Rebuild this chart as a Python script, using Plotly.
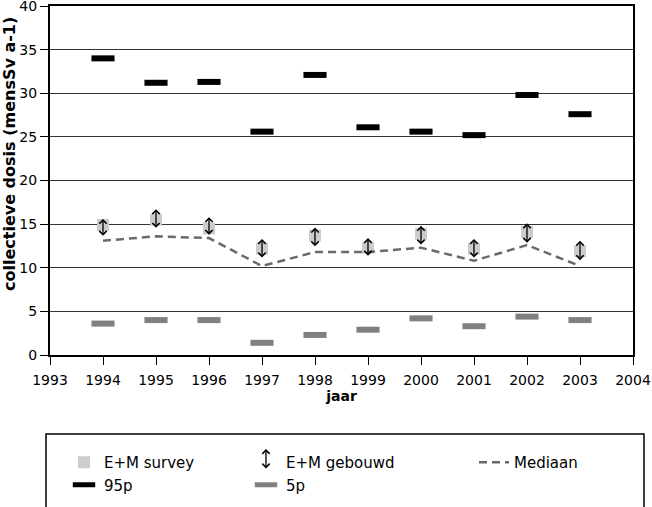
import plotly.graph_objects as go

years = [1994, 1995, 1996, 1997, 1998, 1999, 2000, 2001, 2002, 2003]
p95 = [34.0, 31.2, 31.3, 25.6, 32.1, 26.1, 25.6, 25.2, 29.8, 27.6]
p5 = [3.6, 4.0, 4.0, 1.4, 2.3, 2.9, 4.2, 3.3, 4.4, 4.0]
mediaan = [13.1, 13.6, 13.4, 10.2, 11.8, 11.8, 12.3, 10.8, 12.6, 10.2]
survey = [14.9, 15.5, 14.5, 12.2, 13.7, 12.3, 13.9, 12.2, 14.1, 11.9]
gebouwd_lo = [13.5, 14.4, 13.6, 11.0, 12.3, 11.2, 12.5, 11.0, 12.7, 10.7]
gebouwd_hi = [15.6, 16.7, 15.8, 13.3, 14.6, 13.4, 14.8, 13.3, 15.1, 13.1]
x_ticks = list(range(1993, 2005))
y_ticks = list(range(0, 45, 5))

FONT = "DejaVu Sans"
W, H = 652, 507
ML, MR, MT, MB = 50, 19, 6, 152
PW, PH = W - ML - MR, H - MT - MB


def px_x(px):
    return (px - ML) / PW


def px_y(py):
    return (H - MB - py) / PH


fig = go.Figure()

fig.add_trace(go.Scatter(
    x=years, y=survey, mode="markers", name="E+M survey",
    marker=dict(symbol="square", size=12, color="#cccccc"),
    legend="legend",
))
fig.add_trace(go.Scatter(
    x=years, y=p95, mode="markers", name="95p",
    marker=dict(symbol="line-ew", size=16.5, color="#000000",
                line=dict(width=6, color="#000000")),
    legend="legend",
))
# legend entry for the arrows (arrows themselves drawn as annotations)
fig.add_trace(go.Scatter(
    x=[None], y=[None], mode="markers", name="E+M gebouwd",
    marker=dict(symbol="square", size=10, color="rgba(0,0,0,0)"),
    legend="legend2",
))
fig.add_trace(go.Scatter(
    x=years, y=p5, mode="markers", name="5p",
    marker=dict(symbol="line-ew", size=16.5, color="#808080",
                line=dict(width=6, color="#808080")),
    legend="legend2",
))
fig.add_trace(go.Scatter(
    x=years, y=mediaan, mode="lines", name="Mediaan",
    line=dict(color="#6a6a6a", width=2.5, dash="8px,5px"),
    legend="legend3",
))

for yr, lo, hi in zip(years, gebouwd_lo, gebouwd_hi):
    fig.add_annotation(
        x=yr, y=hi, ax=yr, ay=lo, xref="x", yref="y", axref="x", ayref="y",
        text="", showarrow=True, arrowhead=4, arrowside="end+start",
        arrowsize=1.1, arrowwidth=1.3, arrowcolor="#000000", standoff=0, startstandoff=0,
    )

# legend arrow symbol
fig.add_annotation(
    x=px_x(266), y=px_y(449), ax=0, ay=21, xref="paper", yref="paper",
    axref="pixel", ayref="pixel",
    text="", showarrow=True, arrowhead=4, arrowside="end+start",
    arrowsize=1.1, arrowwidth=1.3, arrowcolor="#000000", standoff=0, startstandoff=0,
)

# y-axis title
fig.add_annotation(
    x=px_x(9), y=px_y(154), xref="paper", yref="paper",
    text="<b>collectieve dosis (mensSv a-1)</b>", textangle=-90, showarrow=False,
    font=dict(family=FONT, size=16, color="#000000"), xanchor="center", yanchor="middle",
)

# legend frame
fig.add_shape(type="rect", xref="paper", yref="paper",
              x0=px_x(46), x1=px_x(644), y0=px_y(434), y1=px_y(530),
              line=dict(color="#000000", width=1.5), fillcolor="rgba(0,0,0,0)")

leg_common = dict(orientation="v", yanchor="top", xanchor="left",
                  font=dict(family=FONT, size=15, color="#000000"),
                  bgcolor="rgba(0,0,0,0)", borderwidth=0, tracegroupgap=0)

fig.update_layout(
    width=W, height=H,
    margin=dict(l=ML, r=MR, t=MT, b=MB, pad=0, autoexpand=False),
    paper_bgcolor="white", plot_bgcolor="white",
    font=dict(family=FONT, size=14, color="#000000"),
    showlegend=True,
    legend=dict(x=px_x(64), y=px_y(446), **leg_common),
    legend2=dict(x=px_x(246), y=px_y(446), **leg_common),
    legend3=dict(x=px_x(474), y=px_y(446), **leg_common),
    xaxis=dict(
        range=[1993, 2004], tickvals=x_ticks, ticktext=[str(v) for v in x_ticks],
        showgrid=False, zeroline=False,
        showline=True, linecolor="#000000", linewidth=2, mirror=True,
        ticks="outside", ticklen=8, tickcolor="#000000", tickwidth=1,
        tickfont=dict(family=FONT, size=14), ticklabeloverflow="allow",
        ticklabelstandoff=3,
        title=dict(text="<b>jaar</b>", font=dict(family=FONT, size=14), standoff=3),
    ),
    yaxis=dict(
        range=[0, 40], tickvals=y_ticks, ticktext=[str(v) for v in y_ticks],
        showgrid=True, gridcolor="#333333", gridwidth=1, zeroline=False,
        showline=True, linecolor="#000000", linewidth=2, mirror=True,
        ticks="outside", ticklen=8, tickcolor="#000000", tickwidth=1,
        tickfont=dict(family=FONT, size=14), ticklabeloverflow="allow",
    ),
)

fig.write_html("out.html", config={"displayModeBar": False},
               post_script="document.body.style.margin='0px';")
